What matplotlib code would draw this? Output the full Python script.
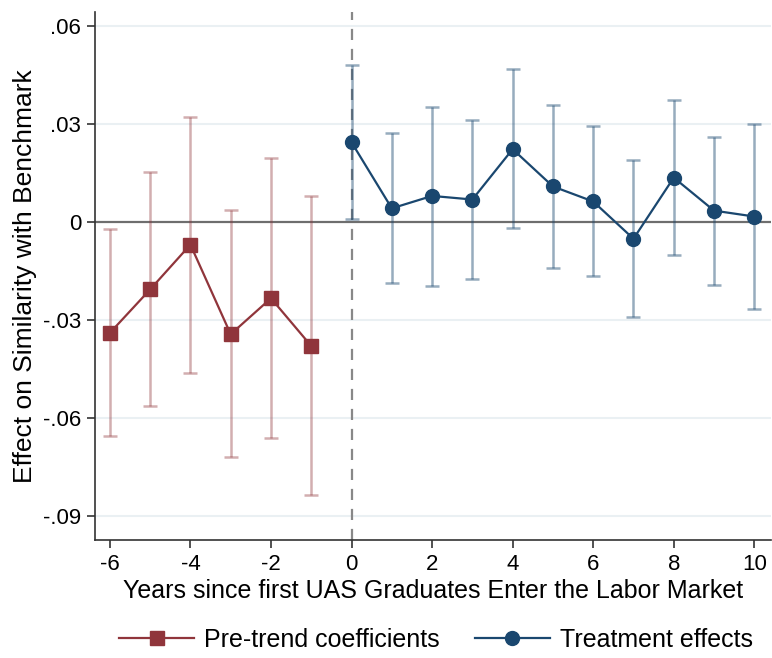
import matplotlib
matplotlib.use("Agg")
import matplotlib.pyplot as plt

pre_x = [-6, -5, -4, -3, -2, -1]
pre_b = [-0.0339, -0.0206, -0.0069, -0.0343, -0.0233, -0.0379]
pre_lo = [-0.0655, -0.0564, -0.0462, -0.0717, -0.0660, -0.0835]
pre_hi = [-0.0021, 0.0152, 0.0321, 0.0036, 0.0196, 0.0081]

post_x = [0, 1, 2, 3, 4, 5, 6, 7, 8, 9, 10]
post_b = [0.0244, 0.0042, 0.0080, 0.0069, 0.0223, 0.0109, 0.0063, -0.0051, 0.0136, 0.0035, 0.0017]
post_lo = [0.0008, -0.0186, -0.0195, -0.0175, -0.0019, -0.0140, -0.0166, -0.0291, -0.0101, -0.0191, -0.0266]
post_hi = [0.0480, 0.0271, 0.0353, 0.0313, 0.0468, 0.0358, 0.0295, 0.0190, 0.0372, 0.0260, 0.0301]

yticks = [-0.09, -0.06, -0.03, 0, 0.03, 0.06]
ylabels = ["-.09", "-.06", "-.03", "0", ".03", ".06"]
xticks = [-6, -4, -2, 0, 2, 4, 6, 8, 10]

red = "#90353b"
navy = "#1a476f"

plt.rcParams['font.family'] = ['Liberation Sans', 'DejaVu Sans']
plt.rcParams['axes.unicode_minus'] = False

fig = plt.figure(figsize=(7.72, 6.58), dpi=100)
ax = fig.add_axes([0.123, 0.179, 0.876, 0.803])

for y in yticks:
    if y != 0:
        ax.axhline(y, color="#eaf0f3", lw=1.5, zorder=0)
ax.axhline(0, color="#6e6e6e", lw=1.6, zorder=1)
ax.axvline(0, color="#888888", lw=1.6, ls=(0, (5, 4)), zorder=1)

ax.errorbar(pre_x, pre_b,
            yerr=[[b - l for b, l in zip(pre_b, pre_lo)], [h - b for b, h in zip(pre_b, pre_hi)]],
            fmt="none", ecolor=red, alpha=0.4, elinewidth=1.8, capsize=5, capthick=1.8, zorder=2)
ax.errorbar(post_x, post_b,
            yerr=[[b - l for b, l in zip(post_b, post_lo)], [h - b for b, h in zip(post_b, post_hi)]],
            fmt="none", ecolor=navy, alpha=0.45, elinewidth=1.8, capsize=5, capthick=1.8, zorder=2)

ax.plot(pre_x, pre_b, color=red, lw=1.6, marker="s", ms=10, label="Pre-trend coefficients", zorder=3)
ax.plot(post_x, post_b, color=navy, lw=1.6, marker="o", ms=10, label="Treatment effects", zorder=3)

ax.set_xlim(-6.37, 10.42)
ax.set_ylim(-0.0973, 0.0643)
ax.set_xticks(xticks)
ax.set_yticks(yticks)
ax.set_yticklabels(ylabels)
ax.tick_params(labelsize=16, length=6, width=1.2, color="#333333", pad=4)
for s in ["top", "right"]:
    ax.spines[s].set_visible(False)
for s in ["left", "bottom"]:
    ax.spines[s].set_linewidth(1.2)
    ax.spines[s].set_color("#333333")

ax.set_xlabel("Years since first UAS Graduates Enter the Labor Market", fontsize=18, labelpad=3)
ax.set_ylabel("Effect on Similarity with Benchmark", fontsize=19, labelpad=4)

fig.legend(loc="lower center", bbox_to_anchor=(0.565, -0.025), ncol=2, frameon=False,
           fontsize=18, handlelength=3.0, handletextpad=0.4, columnspacing=1.4)

fig.savefig("out.png", dpi=100)
